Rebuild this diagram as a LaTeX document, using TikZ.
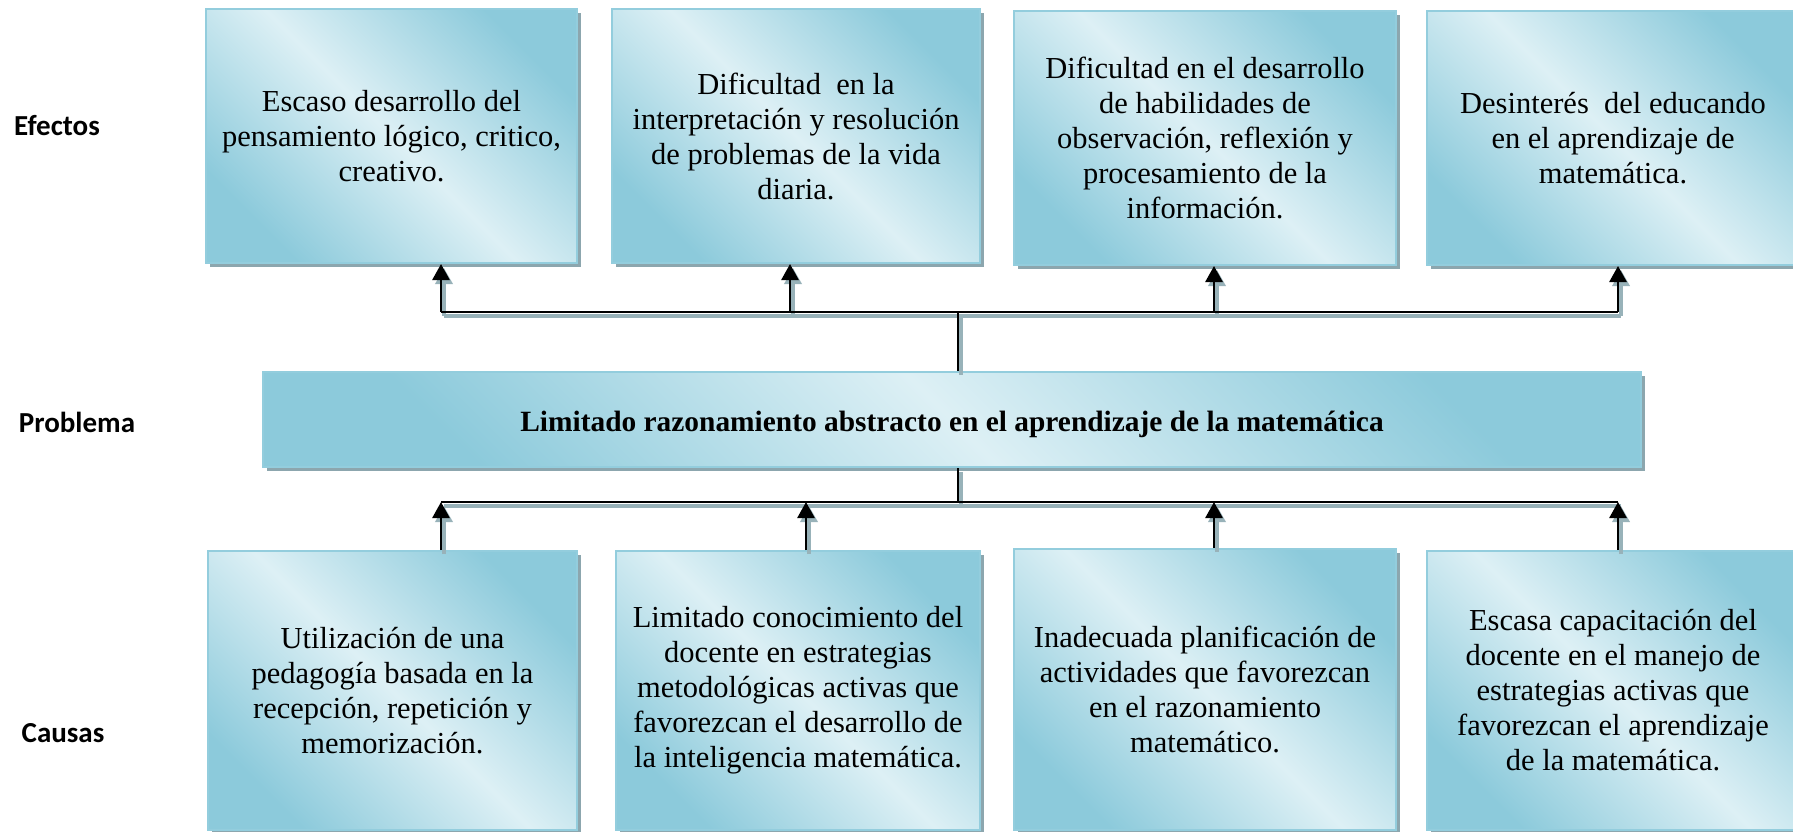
\documentclass[tikz,border=0pt]{standalone}
\usepackage{fontspec}
\setmainfont{Liberation Serif}
\newfontfamily\calfont{Carlito}
\usetikzlibrary{arrows.meta,shadows}
\definecolor{boxdark}{HTML}{8CCADB}
\definecolor{boxlight}{HTML}{DDF0F5}
\definecolor{boxline}{HTML}{93CDDD}
\definecolor{shadegray}{HTML}{8CA6AE}
\definecolor{lineshade}{HTML}{98B2B9}
\begin{document}
\begin{tikzpicture}[x=1pt,y=-1pt,
  box/.style={draw=boxline, line width=2pt, shading=axis, top color=boxdark,
    bottom color=boxdark, middle color=boxlight, shading angle=-45,
    drop shadow={shadow xshift=4pt, shadow yshift=-4pt, fill=shadegray, opacity=1},
    inner sep=0pt, align=center, font=\fontsize{30.5}{35}\selectfont},
  lab/.style={font=\calfont\bfseries\fontsize{29}{32}\selectfont, inner sep=0pt},
  conn/.style={draw=black, line width=2.7pt},
  arr/.style={conn, -{Triangle[width=17pt,length=16pt]}}]
\useasboundingbox (0,0) rectangle (1793,832);
\clip (0,0) rectangle (1793,832);

% labels
\node[lab] (lefe) at (57,126) {Efectos};
\node[lab] (lpro) at (77,422) {Problema};
\node[lab] (lcau) at (63,733) {Causas};

% effects
\node[box, minimum width=371, minimum height=254] (b1) at (391.5,136)
  {Escaso desarrollo del\\pensamiento lógico, critico,\\creativo.};
\node[box, minimum width=368, minimum height=254] (b2) at (796,136)
  {Dificultad\ \ en la\\interpretación y resolución\\de problemas de la vida\\diaria.};
\node[box, minimum width=382, minimum height=254] (b3) at (1205,138)
  {Dificultad en el desarrollo\\de habilidades de\\observación, reflexión y\\procesamiento de la\\información.};
\node[box, minimum width=372, minimum height=254] (b4) at (1613,138)
  {Desinterés\ \ del educando\\en el aprendizaje de\\matemática.};

% problem
\node[box, minimum width=1378, minimum height=95, text height=24pt, text depth=0pt,
  font=\bfseries\fontsize{29.4}{35}\selectfont] (p) at (952,419.5)
  {Limitado razonamiento abstracto en el aprendizaje de la matemática};

% causes
\node[box, minimum width=369, minimum height=279] (c1) at (392.5,690.5)
  {Utilización de una\\pedagogía basada en la\\recepción, repetición y\\memorización.};
\node[box, minimum width=364, minimum height=279] (c2) at (798,690.5)
  {Limitado conocimiento del\\docente en estrategias\\metodológicas activas que\\favorezcan el desarrollo de\\la inteligencia matemática.};
\node[box, minimum width=382, minimum height=281] (c3) at (1205,689.5)
  {Inadecuada planificación de\\actividades que favorezcan\\en el razonamiento\\matemático.};
\node[box, minimum width=372, minimum height=279] (c4) at (1613,690.5)
  {Escasa capacitación del\\docente en el manejo de\\estrategias activas que\\favorezcan el aprendizaje\\de la matemática.};

% junction coordinates
\coordinate (jt) at (958,312);
\coordinate (t1) at (441,312);
\coordinate (t2) at (790,312);
\coordinate (t3) at (1214,312);
\coordinate (t4) at (1618,312);
\coordinate (jb) at (958,502);
\coordinate (u1) at (441,502);
\coordinate (u2) at (806,502);
\coordinate (u3) at (1214,502);
\coordinate (u4) at (1618,502);

\newcommand\connectorset{%
  \draw[conn] (p.north -| jt) -- (jt);
  \draw[conn] (t1) -- (t4);
  \draw[arr] (t1) -- (t1 |- b1.south);
  \draw[arr] (t2) -- (t2 |- b2.south);
  \draw[arr] (t3) -- (t3 |- b3.south);
  \draw[arr] (t4) -- (t4 |- b4.south);
  \draw[conn] (p.south -| jb) -- (jb);
  \draw[conn] (u1) -- (u4);
  \draw[arr] (u1 |- c1.north) -- (u1);
  \draw[arr] (u2 |- c2.north) -- (u2);
  \draw[arr] (u3 |- c3.north) -- (u3);
  \draw[arr] (u4 |- c4.north) -- (u4);
}
\begin{scope}[transform canvas={xshift=3pt,yshift=-4pt}, conn/.style={draw=lineshade, line width=3.5pt}]
  \connectorset
\end{scope}
\connectorset
\end{tikzpicture}
\end{document}
